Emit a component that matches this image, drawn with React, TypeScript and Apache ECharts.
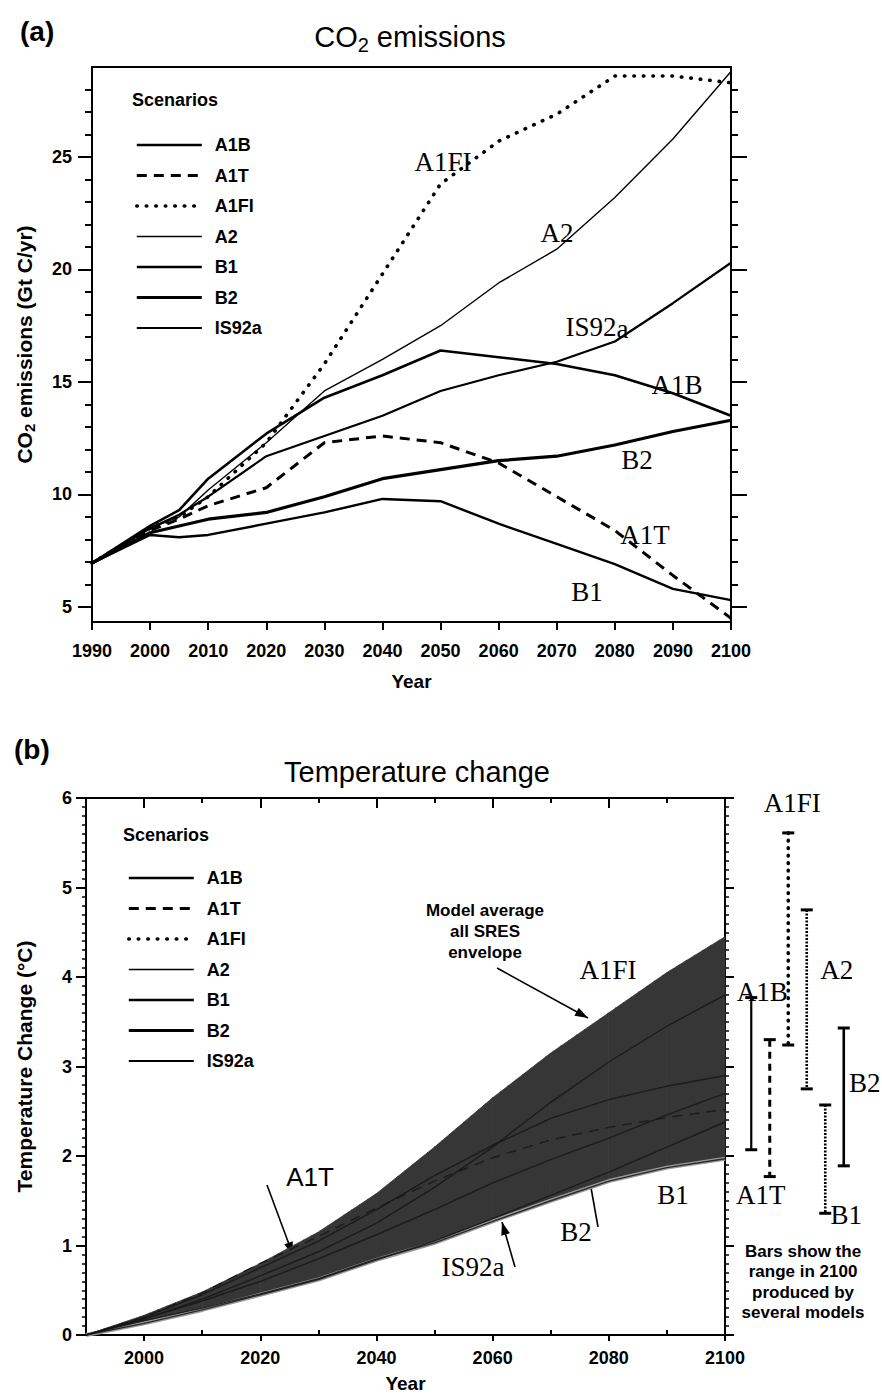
import React, { useEffect, useRef } from 'react';
import * as echarts from 'echarts';

// ---------- DATA ----------
const scenarioNames = ['A1B', 'A1T', 'A1FI', 'A2', 'B1', 'B2', 'IS92a'];

// (a) CO2 emissions, Gt C/yr
const co2Years = [1990, 2000, 2005, 2010, 2020, 2030, 2040, 2050, 2060, 2070, 2080, 2090, 2100];
const co2A1B = [6.95, 8.6, 9.3, 10.7, 12.7, 14.3, 15.3, 16.4, 16.1, 15.8, 15.3, 14.5, 13.5];
const co2A1T = [6.95, 8.4, 8.9, 9.5, 10.3, 12.3, 12.6, 12.3, 11.4, 9.9, 8.4, 6.4, 4.5];
const co2A1FI = [6.95, 8.5, 9.0, 9.9, 12.3, 15.8, 19.8, 23.8, 25.7, 26.9, 28.6, 28.6, 28.3];
const co2A2 = [6.95, 8.5, 9.0, 10.2, 12.3, 14.6, 16.0, 17.5, 19.4, 20.9, 23.2, 25.8, 28.8];
const co2B1 = [6.95, 8.2, 8.1, 8.2, 8.7, 9.2, 9.8, 9.7, 8.7, 7.8, 6.9, 5.8, 5.3];
const co2B2 = [6.95, 8.3, 8.6, 8.9, 9.2, 9.9, 10.7, 11.1, 11.5, 11.7, 12.2, 12.8, 13.3];
const co2IS92a = [6.95, 8.5, 9.1, 9.9, 11.7, 12.6, 13.5, 14.6, 15.3, 15.9, 16.8, 18.5, 20.3];

const co2YTickLabels = [5, 10, 15, 20, 25];
const co2YMinorTicks = [5, 6, 7, 8, 9, 10, 11, 12, 13, 14, 15, 16, 17, 18, 19, 20, 21, 22, 23, 24, 25, 26, 27, 28];

// (b) Temperature change, degC
const tempYears = [1990, 2000, 2010, 2020, 2030, 2040, 2050, 2060, 2070, 2080, 2090, 2100];
const tA1FI = [0, 0.22, 0.48, 0.8, 1.15, 1.58, 2.1, 2.65, 3.15, 3.6, 4.05, 4.45];
const tA2 = [0, 0.18, 0.4, 0.66, 0.93, 1.25, 1.65, 2.1, 2.6, 3.05, 3.45, 3.8];
const tA1B = [0, 0.2, 0.45, 0.75, 1.05, 1.4, 1.78, 2.12, 2.42, 2.63, 2.78, 2.9];
const tA1T = [0, 0.2, 0.47, 0.8, 1.1, 1.42, 1.72, 1.98, 2.18, 2.32, 2.43, 2.52];
const tB2 = [0, 0.18, 0.38, 0.6, 0.85, 1.12, 1.4, 1.7, 1.96, 2.2, 2.46, 2.7];
const tB1 = [0, 0.16, 0.3, 0.46, 0.63, 0.85, 1.03, 1.27, 1.5, 1.72, 1.87, 1.97];
const tIS92a = [0, 0.13, 0.28, 0.45, 0.62, 0.84, 1.05, 1.3, 1.56, 1.82, 2.1, 2.38];

const tempXTickLabels = [2000, 2020, 2040, 2060, 2080, 2100];
const tempXMinorTicks = [2010, 2030, 2050, 2070, 2090];
const tempXTopMajor = [2000, 2020, 2040, 2060, 2080];

// range in 2100 produced by several models
const rangeNames = ['A1B', 'A1T', 'A1FI', 'A2', 'B1', 'B2'];
const rangeLow = [2.07, 1.77, 3.24, 2.75, 1.36, 1.89];
const rangeHigh = [3.77, 3.3, 5.61, 4.75, 2.57, 3.43];

// ---------- STYLE ----------
const SANS = '"Liberation Sans", Arial, Helvetica, sans-serif';
const SERIF = '"Liberation Serif", "Times New Roman", serif';

const co2Data: Record<string, number[]> = {
  A1B: co2A1B, A1T: co2A1T, A1FI: co2A1FI, A2: co2A2, B1: co2B1, B2: co2B2, IS92a: co2IS92a,
};
const tempData: Record<string, number[]> = {
  A1B: tA1B, A1T: tA1T, A1FI: tA1FI, A2: tA2, B1: tB1, B2: tB2, IS92a: tIS92a,
};

const lineStyles: Record<string, any> = {
  A1B: { width: 2.6, type: 'solid' },
  A1T: { width: 3, type: [10, 7] },
  A1FI: { width: 3.6, type: [0.5, 9], cap: 'round' },
  A2: { width: 1.4, type: 'solid' },
  B1: { width: 2.4, type: 'solid' },
  B2: { width: 3.2, type: 'solid' },
  IS92a: { width: 2.2, type: 'solid' },
};

const rangeStyles: Record<string, any> = {
  A1B: { width: 2.2, dash: null, cap: 'butt' },
  A1T: { width: 3, dash: [7, 5], cap: 'butt' },
  A1FI: { width: 3.6, dash: [0.5, 7], cap: 'round' },
  A2: { width: 2.6, dash: [2, 1.5], cap: 'butt' },
  B1: { width: 2.6, dash: [2, 1.5], cap: 'butt' },
  B2: { width: 2.6, dash: null, cap: 'butt' },
};
const rangeLabelPos: Record<string, any> = {
  A1B: { anchor: 'top', dx: 11, dy: -6 },
  A1T: { anchor: 'bottom', dx: -9, dy: 18 },
  A1FI: { anchor: 'top', dx: 4, dy: -30 },
  A2: { anchor: 'top', dx: 30, dy: 60 },
  B1: { anchor: 'bottom', dx: 21, dy: 2 },
  B2: { anchor: 'top', dx: 21, dy: 55 },
};

function txt(text: string, x: number, y: number, font: string, align = 'center', extra: any = {}) {
  return {
    type: 'text', x, y, z: 100,
    style: { text, font, fill: '#000', align, textAlign: align, verticalAlign: 'middle', textVerticalAlign: 'middle', ...extra },
  };
}

function arrow(x1: number, y1: number, x2: number, y2: number, head: boolean) {
  const children: any[] = [
    { type: 'line', shape: { x1, y1, x2, y2 }, style: { stroke: '#000', lineWidth: 1.6 } },
  ];
  if (head) {
    const a = Math.atan2(y2 - y1, x2 - x1);
    const L = 13, W = 4.5;
    const bx = x2 - L * Math.cos(a), by = y2 - L * Math.sin(a);
    children.push({
      type: 'polygon',
      shape: { points: [[x2, y2], [bx + W * Math.sin(a), by - W * Math.cos(a)], [bx - W * Math.sin(a), by + W * Math.cos(a)]] },
      style: { fill: '#000' },
    });
  }
  return { type: 'group', z: 100, children };
}

const axisLineStyle = { color: '#000', width: 2 };
const plainNum = (v: number) => String(v);
const tickFont = { fontFamily: SANS, fontWeight: 'bold' as const, fontSize: 18, color: '#000', formatter: plainNum };

export default function App() {
  const ref = useRef<HTMLDivElement>(null);

  useEffect(() => {
    document.body.style.margin = '0';
    const chart = echarts.init(ref.current!, null, { renderer: 'svg' });

    const topSeries = scenarioNames.map((name) => ({
      name,
      type: 'line',
      xAxisIndex: 0,
      yAxisIndex: 0,
      symbol: 'none',
      silent: true,
      z: 3,
      data: co2Years.map((yr, i) => [yr, co2Data[name][i]]),
      lineStyle: { color: '#000', ...lineStyles[name] },
      itemStyle: { color: '#000' },
    }));

    const lower = tempYears.map((_, i) => Math.min(tB1[i], tIS92a[i]));
    const upper = tA1FI;
    // one quadrilateral per interval between consecutive years
    const bandSegments = tempYears.slice(0, -1).map((yr, i) => [yr, lower[i], upper[i], tempYears[i + 1], lower[i + 1], upper[i + 1]]);

    const bottomSeries: any[] = [
      {
        name: 'Model average all SRES envelope', type: 'custom', xAxisIndex: 2, yAxisIndex: 4, silent: true, z: 1,
        data: bandSegments,
        renderItem: (params: any, api: any) => {
          const p1 = api.coord([api.value(0), api.value(1)]);
          const p2 = api.coord([api.value(3), api.value(4)]);
          const p3 = api.coord([api.value(3), api.value(5)]);
          const p4 = api.coord([api.value(0), api.value(2)]);
          return {
            type: 'polygon',
            shape: { points: [p1, p2, p3, p4] },
            style: { fill: '#363636', stroke: '#363636', lineWidth: 0.8 },
          };
        },
      },
      {
        name: 'envelope-edge', type: 'line', xAxisIndex: 2, yAxisIndex: 4, symbol: 'none', silent: true,
        data: tempYears.map((yr, i) => [yr, lower[i]]), lineStyle: { width: 4, color: '#9a9a9a' }, z: 2,
      },
      ...scenarioNames.map((name) => ({
        name, type: 'line', xAxisIndex: 2, yAxisIndex: 4, symbol: 'none', silent: true, z: 2,
        data: tempYears.map((yr, i) => [yr, tempData[name][i]]),
        lineStyle: { color: '#161616', width: 1.4, type: lineStyles[name].type, opacity: 0.85 },
        itemStyle: { color: '#000' },
      })),
      {
        name: 'range2100', type: 'custom', xAxisIndex: 6, yAxisIndex: 6, clip: false, silent: true, z: 5,
        data: rangeNames.map((n, i) => [i, rangeLow[i], rangeHigh[i]]),
        renderItem: (params: any, api: any) => {
          const i = api.value(0);
          const name = rangeNames[i];
          const top = api.coord([i, api.value(2)]);
          const bot = api.coord([i, api.value(1)]);
          const st = rangeStyles[name];
          const lp = rangeLabelPos[name];
          const anc = lp.anchor === 'top' ? top : bot;
          return {
            type: 'group',
            children: [
              { type: 'line', shape: { x1: top[0], y1: top[1], x2: bot[0], y2: bot[1] },
                style: { stroke: '#000', lineWidth: st.width, lineDash: st.dash, lineCap: st.cap } },
              { type: 'line', shape: { x1: top[0] - 6, y1: top[1], x2: top[0] + 6, y2: top[1] }, style: { stroke: '#000', lineWidth: 3 } },
              { type: 'line', shape: { x1: bot[0] - 6, y1: bot[1], x2: bot[0] + 6, y2: bot[1] }, style: { stroke: '#000', lineWidth: 3 } },
              { type: 'text', x: anc[0] + lp.dx, y: anc[1] + lp.dy,
                style: { text: name, font: `27px ${SERIF}`, fill: '#000', align: 'center', verticalAlign: 'middle', textAlign: 'center', textVerticalAlign: 'middle' } },
            ],
          };
        },
      },
    ];

    const legendCommon = {
      data: scenarioNames,
      orient: 'vertical',
      itemWidth: 65,
      itemHeight: 18,
      itemGap: 12.5,
      selectedMode: false,
      textStyle: { fontFamily: SANS, fontWeight: 'bold', fontSize: 18, color: '#000', padding: [0, 0, 0, 8] },
      lineStyle: { width: 'inherit' },
      itemStyle: { opacity: 0 },
    };

    const option: any = {
      animation: false,
      backgroundColor: '#fff',
      grid: [
        { left: 92, top: 67, width: 639, height: 555, outerBoundsMode: 'none' },
        { left: 86, top: 798, width: 639, height: 537, outerBoundsMode: 'none' },
        { left: 742, top: 798, width: 111, height: 537, outerBoundsMode: 'none' },
      ],
      legend: [
        { ...legendCommon, left: 130, top: 131 },
        { ...legendCommon, left: 122, top: 864 },
      ],
      xAxis: [
        { gridIndex: 0, type: 'value', min: 1990, max: 2100, interval: 10, position: 'bottom',
          axisLine: { lineStyle: axisLineStyle }, axisTick: { length: 8, lineStyle: { width: 2, color: '#000' } },
          axisLabel: { ...tickFont, margin: 20 }, splitLine: { show: false },
          name: 'Year', nameLocation: 'middle', nameGap: 50,
          nameTextStyle: { fontFamily: SANS, fontWeight: 'bold', fontSize: 19, color: '#000' } },
        { gridIndex: 0, type: 'value', min: 1990, max: 2100, position: 'top',
          axisLine: { lineStyle: axisLineStyle }, axisTick: { show: false }, axisLabel: { show: false }, splitLine: { show: false } },
        { gridIndex: 1, type: 'value', min: 1990, max: 2100, position: 'bottom',
          axisLine: { lineStyle: axisLineStyle },
          axisTick: { customValues: tempXTickLabels, length: 6, lineStyle: { width: 2, color: '#000' } },
          axisLabel: { ...tickFont, margin: 14, customValues: tempXTickLabels }, splitLine: { show: false },
          name: 'Year', nameLocation: 'middle', nameGap: 39,
          nameTextStyle: { fontFamily: SANS, fontWeight: 'bold', fontSize: 19, color: '#000' } },
        { gridIndex: 1, type: 'value', min: 1990, max: 2100, position: 'bottom',
          axisLine: { show: false }, axisTick: { inside: true, customValues: tempXMinorTicks, length: 5, lineStyle: { width: 2, color: '#000' } },
          axisLabel: { show: false }, splitLine: { show: false } },
        { gridIndex: 1, type: 'value', min: 1990, max: 2100, position: 'top',
          axisLine: { lineStyle: axisLineStyle }, axisTick: { inside: true, customValues: tempXTopMajor, length: 10, lineStyle: { width: 2, color: '#000' } },
          axisLabel: { show: false }, splitLine: { show: false } },
        { gridIndex: 1, type: 'value', min: 1990, max: 2100, position: 'top',
          axisLine: { show: false }, axisTick: { inside: true, customValues: tempXMinorTicks, length: 5, lineStyle: { width: 2, color: '#000' } },
          axisLabel: { show: false }, splitLine: { show: false } },
        { gridIndex: 2, type: 'category', data: rangeNames, show: false },
      ],
      yAxis: [
        { gridIndex: 0, type: 'value', min: 4.33, max: 29, position: 'left',
          axisLine: { show: true, lineStyle: axisLineStyle },
          axisTick: { show: true, customValues: co2YMinorTicks, length: 7, lineStyle: { width: 2, color: '#000' } },
          axisLabel: { ...tickFont, margin: 20, customValues: co2YTickLabels }, splitLine: { show: false },
          name: '{a|CO}{s|2}{a| emissions (Gt C/yr)}', nameLocation: 'middle', nameGap: 55,
          nameTextStyle: { rich: {
            a: { fontFamily: SANS, fontWeight: 'bold', fontSize: 21, color: '#000', lineHeight: 26 },
            s: { fontFamily: SANS, fontWeight: 'bold', fontSize: 15, color: '#000', lineHeight: 15, verticalAlign: 'bottom' },
          } } },
        { gridIndex: 0, type: 'value', min: 4.33, max: 29, position: 'left',
          axisLine: { show: false }, axisTick: { show: true, customValues: co2YTickLabels, length: 14, lineStyle: { width: 2, color: '#000' } },
          axisLabel: { show: false }, splitLine: { show: false } },
        { gridIndex: 0, type: 'value', min: 4.33, max: 29, position: 'right',
          axisLine: { show: true, lineStyle: axisLineStyle },
          axisTick: { show: true, customValues: co2YMinorTicks, length: 7, lineStyle: { width: 2, color: '#000' } },
          axisLabel: { show: false }, splitLine: { show: false } },
        { gridIndex: 0, type: 'value', min: 4.33, max: 29, position: 'right',
          axisLine: { show: false }, axisTick: { show: true, customValues: co2YTickLabels, length: 16, lineStyle: { width: 2, color: '#000' } },
          axisLabel: { show: false }, splitLine: { show: false } },
        { gridIndex: 1, type: 'value', min: 0, max: 6, interval: 1, position: 'left',
          axisLine: { show: true, lineStyle: axisLineStyle },
          axisTick: { show: true, length: 10, lineStyle: { width: 2, color: '#000' } },
          minorTick: { show: true, splitNumber: 10, length: 4, lineStyle: { width: 1.5, color: '#000' } },
          axisLabel: { ...tickFont, margin: 14 }, splitLine: { show: false },
          name: 'Temperature Change (°C)', nameLocation: 'middle', nameGap: 51,
          nameTextStyle: { fontFamily: SANS, fontWeight: 'bold', fontSize: 21, color: '#000' } },
        { gridIndex: 1, type: 'value', min: 0, max: 6, interval: 1, position: 'right',
          axisLine: { show: true, lineStyle: axisLineStyle },
          axisTick: { show: true, length: 9, lineStyle: { width: 2, color: '#000' } },
          minorTick: { show: true, splitNumber: 10, length: 4, lineStyle: { width: 1.5, color: '#000' } },
          axisLabel: { show: false }, splitLine: { show: false } },
        { gridIndex: 2, type: 'value', min: 0, max: 6, show: false },
      ],
      series: [...topSeries, ...bottomSeries],
      graphic: [
        txt('(a)', 20, 31, `bold 28px ${SANS}`, 'left'),
        { type: 'text', x: 410, y: 37, z: 100,
          style: { text: '{a|CO}{s|2}{a| emissions}', fill: '#000', align: 'center', textAlign: 'center', verticalAlign: 'middle', textVerticalAlign: 'middle',
            rich: {
              a: { fontFamily: SANS, fontSize: 29, lineHeight: 36, fill: '#000' },
              s: { fontFamily: SANS, fontSize: 20, lineHeight: 21, fill: '#000', verticalAlign: 'bottom' },
            } } },
        txt('Scenarios', 132, 100, `bold 18px ${SANS}`, 'left'),
        txt('A1FI', 443, 162, `27px ${SERIF}`),
        txt('A2', 557, 233, `27px ${SERIF}`),
        { type: 'text', x: 597, y: 327, z: 100,
          style: { text: '{a|IS92}{s|a}', fill: '#000', align: 'center', textAlign: 'center', verticalAlign: 'middle', textVerticalAlign: 'middle',
            rich: {
              a: { fontFamily: SERIF, fontSize: 27, lineHeight: 30, fill: '#000' },
              s: { fontFamily: SERIF, fontSize: 27, lineHeight: 18, fill: '#000', verticalAlign: 'bottom' },
            } } },
        txt('A1B', 677, 385, `27px ${SERIF}`),
        txt('B2', 637, 460, `27px ${SERIF}`),
        txt('A1T', 645, 535, `27px ${SERIF}`),
        txt('B1', 587, 592, `27px ${SERIF}`),

        txt('(b)', 14, 749, `bold 28px ${SANS}`, 'left'),
        txt('Temperature change', 417, 772, `29px ${SANS}`),
        txt('Scenarios', 123, 835, `bold 18px ${SANS}`, 'left'),
        txt('Model average\nall SRES\nenvelope', 485, 931, `bold 17px ${SANS}`, 'center', { lineHeight: 21 }),
        arrow(497, 968, 588, 1018, true),
        txt('A1FI', 608, 970, `27px ${SERIF}`),
        txt('A1T', 310, 1177, `26px ${SANS}`),
        arrow(267, 1185, 293, 1255, true),
        txt('IS92a', 473, 1267, `27px ${SERIF}`),
        arrow(515, 1267, 502, 1222, true),
        txt('B2', 576, 1232, `27px ${SERIF}`),
        arrow(598, 1227, 590, 1182, false),
        txt('B1', 673, 1195, `27px ${SERIF}`),
        txt('Bars show the\nrange in 2100\nproduced by\nseveral models', 803, 1282, `bold 17px ${SANS}`, 'center', { lineHeight: 20.5 }),
      ],
    };

    chart.setOption(option);
    return () => chart.dispose();
  }, []);

  return <div ref={ref} style={{ width: 882, height: 1394 }} />;
}
